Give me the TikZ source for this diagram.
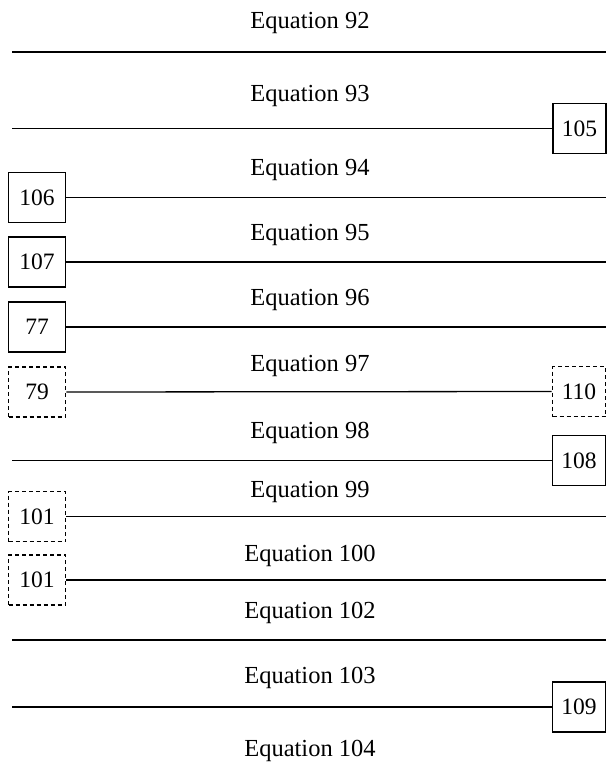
\documentclass[tikz,border=0pt]{standalone}
\usepackage{fontspec}
\setmainfont{Liberation Serif}
\begin{document}
\begin{tikzpicture}[x=1pt,y=-1pt,
  eqtext/.style={inner sep=0pt, anchor=base, font=\fontsize{24.5}{29}\selectfont},
  lbox/.style={draw, line width=1.6pt, minimum width=57pt, minimum height=50pt, inner sep=0pt, font=\fontsize{23.5}{28}\selectfont},
  rbox/.style={lbox, minimum width=53pt},
  dbox/.style={dash pattern=on 4pt off 3pt},
  hline/.style={line width=1.3pt}]
\useasboundingbox (0,0) rectangle (606,775);
% texts
\node[eqtext] (e92) at (310,29) {Equation 92};
\node[eqtext] (e93) at (310,101.7) {Equation 93};
\node[eqtext] (e94) at (310,175.7) {Equation 94};
\node[eqtext] (e95) at (310,240.7) {Equation 95};
\node[eqtext] (e96) at (310,305) {Equation 96};
\node[eqtext] (e97) at (310,371) {Equation 97};
\node[eqtext] (e98) at (310,438.3) {Equation 98};
\node[eqtext] (e99) at (310,497.5) {Equation 99};
\node[eqtext] (e100) at (310,561) {Equation 100};
\node[eqtext] (e102) at (310,618) {Equation 102};
\node[eqtext] (e103) at (310,683.3) {Equation 103};
\node[eqtext] (e104) at (310,756) {Equation 104};
% boxes
\node[rbox] (b105) at (579.5,128.5) {105};
\node[lbox] (b106) at (37,197.5) {106};
\node[lbox] (b107) at (37,262) {107};
\node[lbox] (b77) at (37,327) {77};
\node[lbox,dbox] (b79) at (37,392) {79};
\node[rbox,dbox] (b110) at (579,391.5) {110};
\node[rbox] (b108) at (579,460.5) {108};
\node[lbox,dbox] (b101a) at (37,516.5) {101};
\node[lbox,dbox] (b101b) at (37,580) {101};
\node[rbox] (b109) at (579,707) {109};
% free ends
\coordinate (l92a) at (12,52); \coordinate (l92b) at (606,52);
\coordinate (l93) at (12,128.5);
\coordinate (l94) at (606,197.5);
\coordinate (l95) at (606,262);
\coordinate (l96) at (606,327);
\coordinate (l98) at (12,460.5);
\coordinate (l99) at (606,516.5);
\coordinate (l100) at (606,580);
\coordinate (l102a) at (12,640); \coordinate (l102b) at (606,640);
\coordinate (l103) at (12,707);
% lines
\draw[hline] (l92a) -- (l92b);
\draw[hline] (l93) -- (b105.west);
\draw[hline] (b106.east) -- (l94);
\draw[hline] (b107.east) -- (l95);
\draw[hline] (b77.east) -- (l96);
\draw[hline] (b79.east) -- (b110.west);
\draw[hline] (l98) -- (b108.west);
\draw[hline] (b101a.east) -- (l99);
\draw[hline] (b101b.east) -- (l100);
\draw[hline] (l102a) -- (l102b);
\draw[hline] (l103) -- (b109.west);
\end{tikzpicture}
\end{document}
